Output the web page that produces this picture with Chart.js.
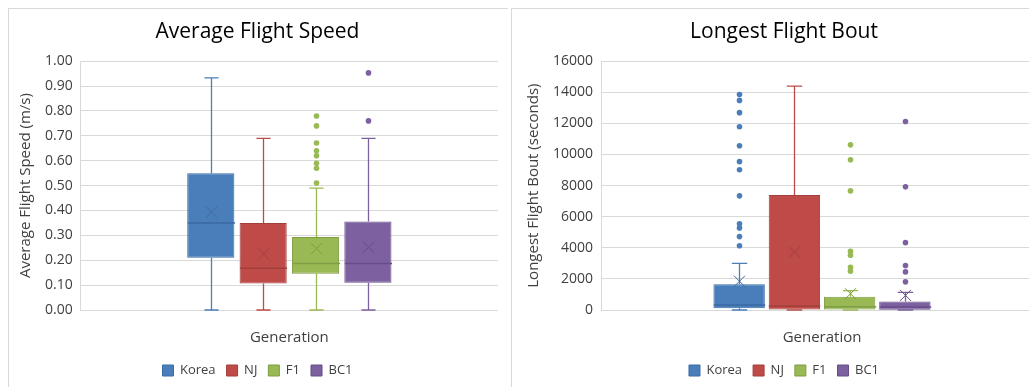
<!DOCTYPE html>
<html>
<head>
<meta charset="utf-8">
<script src="https://cdn.jsdelivr.net/npm/chart.js@4.4.1/dist/chart.umd.min.js"></script>
<style>
  html, body { margin: 0; padding: 0; background: #fff; overflow: hidden; }
  body { width: 1029px; height: 387px; position: relative; }
  .panel { position: absolute; top: 8px; border-left: 1px solid #d9d9d9; border-top: 1px solid #d9d9d9; box-sizing: border-box; }
  #p1 { left: 8px; width: 500px; height: 379px; }
  #p2 { left: 511px; width: 540px; height: 379px; }
</style>
</head>
<body>
<div class="panel" id="p1"><canvas id="speedChart"></canvas></div>
<div class="panel" id="p2"><canvas id="boutChart"></canvas></div>
<script>
// groups and colours
const groups = ['Korea', 'NJ', 'F1', 'BC1'];
const fills = ['#4a7ebb', '#be4b48', '#98b954', '#7d60a0'];
const edges = ['#3a6aa3', '#a23e3b', '#7f9d42', '#664d87'];

// Average flight speed (m/s)
const speedMin = [0, 0, 0, 0];
const speedQ1 = [0.21, 0.107, 0.146, 0.11];
const speedMedian = [0.35, 0.168, 0.187, 0.187];
const speedQ3 = [0.55, 0.35, 0.293, 0.356];
const speedMax = [0.933, 0.69, 0.49, 0.69];
const speedMean = [0.393, 0.225, 0.247, 0.252];
const speedOutliers = [
  [],
  [],
  [0.78, 0.74, 0.671, 0.64, 0.62, 0.59, 0.57, 0.51],
  [0.953, 0.76]
];
const speedTicks = { min: 0, max: 1, step: 0.1 };

// Longest flight bout (seconds)
const boutMin = [0, 0, 0, 0];
const boutQ1 = [120, 0, 30, 20];
const boutMedian = [320, 260, 210, 190];
const boutQ3 = [1650, 7400, 860, 540];
const boutMax = [3000, 14400, 1240, 1130];
const boutMean = [1850, 3720, 1050, 940];
const boutOutliers = [
  [13860, 13480, 12690, 11780, 10560, 9540, 9020, 7340, 5550, 5280, 4720, 4130],
  [],
  [10620, 9660, 7660, 3780, 3520, 2750, 2500],
  [12120, 7920, 4330, 2860, 2450, 1810]
];
const boutTicks = { min: 0, max: 16000, step: 2000 };

const boxExtras = {
  id: 'boxExtras',
  afterDatasetsDraw(chart) {
    const ctx = chart.ctx;
    const y = chart.scales.y;
    chart.data.datasets.forEach((ds, i) => {
      const bar = chart.getDatasetMeta(i).data[0];
      const x = Math.round(bar.x) + 0.5;
      const half = bar.width / 2;
      const cap = bar.width * 0.15;
      ctx.save();
      ctx.strokeStyle = ds.whiskerColor;
      ctx.lineWidth = 1.3;
      ctx.beginPath();
      ctx.moveTo(x, y.getPixelForValue(ds.q3));
      ctx.lineTo(x, y.getPixelForValue(ds.max));
      ctx.moveTo(x - cap, y.getPixelForValue(ds.max));
      ctx.lineTo(x + cap, y.getPixelForValue(ds.max));
      ctx.moveTo(x, y.getPixelForValue(ds.q1));
      ctx.lineTo(x, y.getPixelForValue(ds.min));
      ctx.moveTo(x - cap, y.getPixelForValue(ds.min));
      ctx.lineTo(x + cap, y.getPixelForValue(ds.min));
      ctx.stroke();
      // median
      ctx.strokeStyle = ds.borderColor;
      ctx.lineWidth = 1.5;
      const ym = y.getPixelForValue(ds.median);
      ctx.beginPath();
      ctx.moveTo(x - half, ym);
      ctx.lineTo(x + half, ym);
      ctx.stroke();
      // mean marker
      const yx = y.getPixelForValue(ds.mean);
      const r = 5.5;
      ctx.lineWidth = 1;
      ctx.beginPath();
      ctx.moveTo(x - r, yx - r); ctx.lineTo(x + r, yx + r);
      ctx.moveTo(x - r, yx + r); ctx.lineTo(x + r, yx - r);
      ctx.stroke();
      // outliers
      ctx.fillStyle = ds.backgroundColor;
      ds.outliers.forEach(v => {
        ctx.beginPath();
        ctx.arc(x, y.getPixelForValue(v), 2.8, 0, Math.PI * 2);
        ctx.fill();
      });
      ctx.restore();
    });
  }
};

function buildDatasets(q1, med, q3, mn, mx, mean, outl) {
  return groups.map((g, i) => ({
    label: g,
    data: [[q1[i], q3[i]]],
    backgroundColor: fills[i],
    borderColor: edges[i],
    borderWidth: 1,
    borderSkipped: false,
    whiskerColor: fills[i],
    q1: q1[i], q3: q3[i], median: med[i], min: mn[i], max: mx[i], mean: mean[i],
    outliers: outl[i]
  }));
}

const fontFamily = '"Open Sans", "Noto Sans", sans-serif';

function makeChart(id, title, yTitle, ticks, fmt, datasets, catPct, barPct, pad) {
  return new Chart(document.getElementById(id), {
    type: 'bar',
    data: { labels: [''], datasets: datasets },
    options: {
      responsive: true,
      maintainAspectRatio: false,
      animation: false,
      devicePixelRatio: 1,
      categoryPercentage: catPct,
      barPercentage: barPct,
      layout: { padding: pad },
      plugins: {
        title: {
          display: true,
          text: title,
          color: '#000',
          font: { family: fontFamily, size: 21, weight: 'normal' },
          padding: { top: 6, bottom: 17 }
        },
        legend: {
          position: 'bottom',
          labels: {
            boxWidth: 11, boxHeight: 11, padding: 11,
            color: '#404040',
            font: { family: fontFamily, size: 13 }
          }
        },
        tooltip: { enabled: false }
      },
      scales: {
        x: {
          grid: { display: false },
          border: { display: false },
          ticks: { display: false },
          title: {
            display: true, text: 'Generation', color: '#404040',
            font: { family: fontFamily, size: 15 },
            padding: { top: 11, bottom: 6 }
          }
        },
        y: {
          min: ticks.min, max: ticks.max,
          grid: { color: '#d9d9d9', drawTicks: false, lineWidth: 1 },
          border: { color: '#d9d9d9' },
          ticks: {
            stepSize: ticks.step, color: '#404040', padding: 8,
            font: { family: fontFamily, size: 14 },
            callback: fmt
          },
          title: {
            display: true, text: yTitle, color: '#404040',
            font: { family: fontFamily, size: 15 },
            padding: { top: 0, bottom: 2 }
          }
        }
      }
    },
    plugins: [boxExtras]
  });
}

makeChart('speedChart', 'Average Flight Speed', 'Average Flight Speed (m/s)', speedTicks,
  v => v.toFixed(2),
  buildDatasets(speedQ1, speedMedian, speedQ3, speedMin, speedMax, speedMean, speedOutliers),
  0.502, 0.9, { left: 8, right: 10, top: 4, bottom: 0 });

makeChart('boutChart', 'Longest Flight Bout', 'Longest Flight Bout (seconds)', boutTicks,
  v => String(v),
  buildDatasets(boutQ1, boutMedian, boutQ3, boutMin, boutMax, boutMean, boutOutliers),
  0.5, 0.93, { left: 13, right: 8, top: 4, bottom: 0 });
</script>
</body>
</html>
